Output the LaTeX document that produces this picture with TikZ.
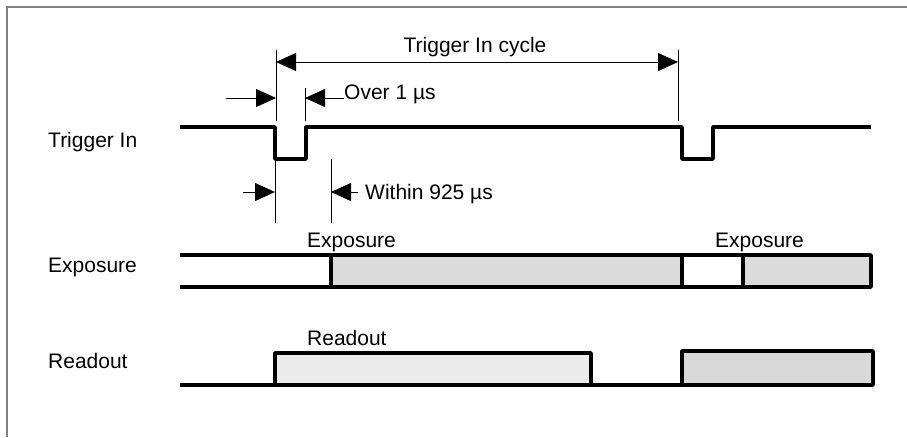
\documentclass[tikz,border=0pt]{standalone}
\usepackage{fontspec}
\setmainfont{Liberation Sans}
\usetikzlibrary{arrows.meta}

\begin{document}
\begin{tikzpicture}[x=1pt, y=-1pt,
		sig/.style={line width=3.5pt, line join=round},
		dim/.style={line width=0.9pt},
		tip/.style={-{Triangle[length=20pt, width=18pt]}},
		lbl/.style={anchor=base west, inner sep=0pt, font=\fontsize{21}{25}\selectfont}]
			%%%%% START %%%%%
			
			\useasboundingbox (0, 0) rectangle (907, 437);
			\draw[line width=1.5pt, color=black!50] (7, 437) -- (7, 7) -- (907, 7);
			
			\node[lbl] (trigname) at (48, 147) {Trigger In};
			\node[lbl] (expname) at (48, 272) {Exposure};
			\node[lbl] (readname) at (48, 368) {Readout};
			
			\draw[sig] (180, 127) -- (275, 127) -- (275, 159) -- (306, 159) -- (306, 127) -- (682, 127) -- (682, 159) -- (713, 159) -- (713, 127) -- (871, 127);
			
			\fill[color=black!14] (331, 255) rectangle (682, 287);
			\fill[color=black!14] (743, 255) rectangle (871, 287);
			\draw[sig] (180, 255) -- (871, 255) -- (871, 287) -- (180, 287);
			\draw[sig] (331, 255) -- (331, 287);
			\draw[sig] (682, 255) -- (682, 287);
			\draw[sig] (743, 255) -- (743, 287);
			\node[lbl] (explbla) at (307, 247) {Exposure};
			\node[lbl] (explblb) at (715, 247) {Exposure};
			
			\draw[sig] (180, 385) -- (682, 385);
			\draw[sig, fill=black!8] (275, 385) rectangle (591, 353);
			\draw[sig, fill=black!15] (682, 385) rectangle (873, 351);
			\node[lbl] (readlbl) at (307, 345) {Readout};
			
			\draw[dim] (276, 50) -- (276, 121);
			\draw[dim] (678, 50) -- (678, 121);
			\draw[dim] (305, 88) -- (305, 121);
			\draw[dim, {Triangle[length=20pt, width=18pt]}-{Triangle[length=20pt, width=18pt]}] (276, 62) -- (678, 62);
			\node[lbl, anchor=base] (cyclelbl) at (475, 52) {Trigger In cycle};
			
			\draw[dim, tip] (226, 98) -- (276, 98);
			\draw[dim, tip] (344, 98) -- (305, 98);
			\node[lbl] (overlbl) at (344, 99) {Over 1 µs};
			
			\draw[dim] (275, 159) -- (275, 223);
			\draw[dim] (331, 159) -- (331, 223);
			\draw[dim, tip] (243, 192) -- (275, 192);
			\draw[dim, tip] (358, 192) -- (331, 192);
			\node[lbl] (withinlbl) at (365, 199) {Within 925 µs};
			
			%%%%% END %%%%%
		\end{tikzpicture}
\end{document}
